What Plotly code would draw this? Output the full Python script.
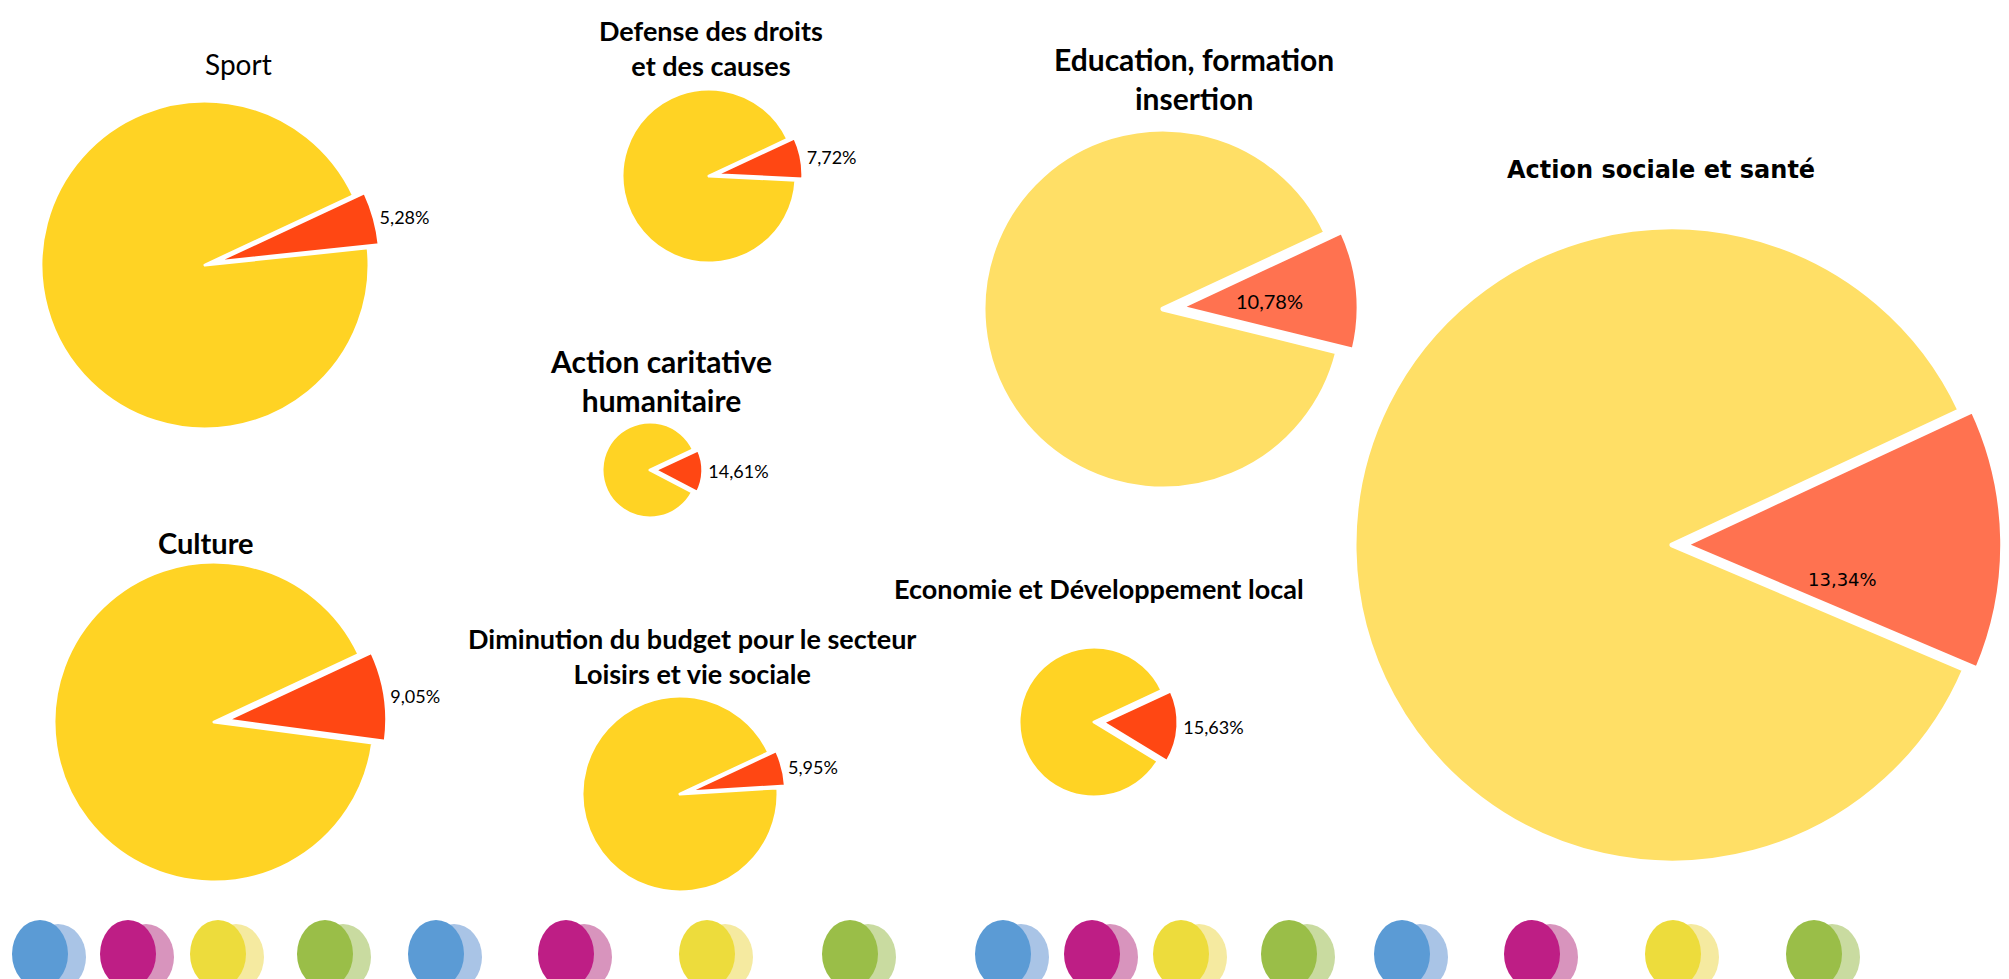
import plotly.graph_objects as go

W, H = 2009, 979

# Data: share of associations reporting a budget decrease, by sector
sectors = ["Sport", "Defense des droits et des causes", "Action caritative humanitaire",
           "Education, formation insertion", "Action sociale et santé", "Culture",
           "Loisirs et vie sociale", "Economie et Développement local"]
decline_pct = [5.28, 7.72, 14.61, 10.78, 13.34, 9.05, 5.95, 15.63]
titles = ["Sport", "Defense des droits<br>et des causes", "Action caritative<br>humanitaire",
          "Education, formation<br>insertion", "Action sociale et santé", "Culture",
          "Diminution du budget pour le secteur<br>Loisirs et vie sociale",
          "Economie et Développement local"]

# layout of each pie (pixels): center x, center y, radius, pull, light colours
pie_layout = [
    (205, 265, 164, 0.07, False),
    (709, 176, 87, 0.08, False),
    (650, 470, 48, 0.10, False),
    (1163, 309, 180, 0.09, True),
    (1672, 545, 318, 0.04, True),
    (214, 722, 160, 0.08, False),
    (680, 794, 98, 0.08, False),
    (1094, 722, 75, 0.12, False),
]
# title positions (pixels): x, y, bold, font, size
title_layout = [
    (238, 64, False, "narrow", 28),
    (711, 48, True, "narrow", 27),
    (661, 380, True, "narrow", 30),
    (1194, 78, True, "narrow", 30),
    (1661, 170, True, "wide", 24),
    (206, 542, True, "narrow", 29),
    (692, 656, True, "narrow", 27),
    (1099, 588, True, "narrow", 27),
]
# inside-label offsets for the two big pies (pixels from pie centre)
inside_offset = {3: (106, -8), 4: (170, 34)}

# decorative dots along the bottom
dot_x = [40, 128, 218, 325, 436, 566, 707, 850, 1003, 1092, 1181, 1289, 1402, 1532, 1673, 1814]
dot_palette = [("#5B9BD5", "#A9C4E6"), ("#BE1E85", "#D894BD"),
               ("#EDDC3C", "#F5EAA0"), ("#9ABE48", "#C9DBA0")]

NARROW = "Lato, Open Sans, sans-serif"
WIDE = "DejaVu Sans, Verdana, sans-serif"

fig = go.Figure()

for i, pct in enumerate(decline_pct):
    cx, cy, r, pull, light = pie_layout[i]
    side = 2 * r * (1 + pull)
    dom_x = [max(0, (cx - side / 2) / W), min(1, (cx + side / 2) / W)]
    dom_y = [max(0, 1 - (cy + side / 2) / H), min(1, 1 - (cy - side / 2) / H)]
    red, yellow = ("#FF7250", "#FFDF66") if light else ("#FF4713", "#FFD324")
    label = f"{pct:.2f}".replace(".", ",") + "%"
    fig.add_trace(go.Pie(
        labels=["Diminution", "Autre"],
        values=[pct, 100 - pct],
        text=["" if light else label, ""],
        textinfo="text",
        textposition=["outside", "none"],
        textfont=dict(family=NARROW, size=18, color="black"),
        sort=False,
        direction="clockwise",
        rotation=65,
        pull=[pull, 0],
        marker=dict(colors=[red, yellow], line=dict(color="white", width=5 if light else 3)),
        domain=dict(x=dom_x, y=dom_y),
        showlegend=False,
        hoverinfo="label+value",
        name=sectors[i],
    ))
    if light:
        ox, oy = inside_offset[i]
        fig.add_annotation(
            x=(cx + ox) / W, y=1 - (cy + oy) / H, xref="paper", yref="paper",
            text=label, showarrow=False, xanchor="center", yanchor="middle",
            font=dict(family=WIDE if i == 4 else NARROW, size=18 if i == 4 else 20, color="black"),
        )

for i, t in enumerate(titles):
    x, y, bold, fnt, size = title_layout[i]
    fig.add_annotation(
        x=x / W, y=1 - y / H, xref="paper", yref="paper",
        xanchor="center", yanchor="middle",
        text=f"<b>{t}</b>" if bold else t, showarrow=False, align="center",
        font=dict(family=WIDE if fnt == "wide" else NARROW, size=size, color="black"),
    )

shapes = []
for j, x in enumerate(dot_x):
    main, pale = dot_palette[j % 4]
    shapes.append(dict(type="circle", xref="x", yref="y", x0=x - 10, x1=x + 46,
                       y0=924, y1=990, fillcolor=pale, line_width=0, layer="above"))
    shapes.append(dict(type="circle", xref="x", yref="y", x0=x - 28, x1=x + 28,
                       y0=920, y1=988, fillcolor=main, line_width=0, layer="above"))

fig.update_layout(
    width=W, height=H,
    margin=dict(l=0, r=0, t=0, b=0),
    paper_bgcolor="white", plot_bgcolor="white",
    xaxis=dict(range=[0, W], visible=False, fixedrange=True),
    yaxis=dict(range=[H, 0], visible=False, fixedrange=True),
    shapes=shapes,
)

fig.write_html("out.html", config={"displayModeBar": False},
               post_script="document.body.style.margin='0';")
